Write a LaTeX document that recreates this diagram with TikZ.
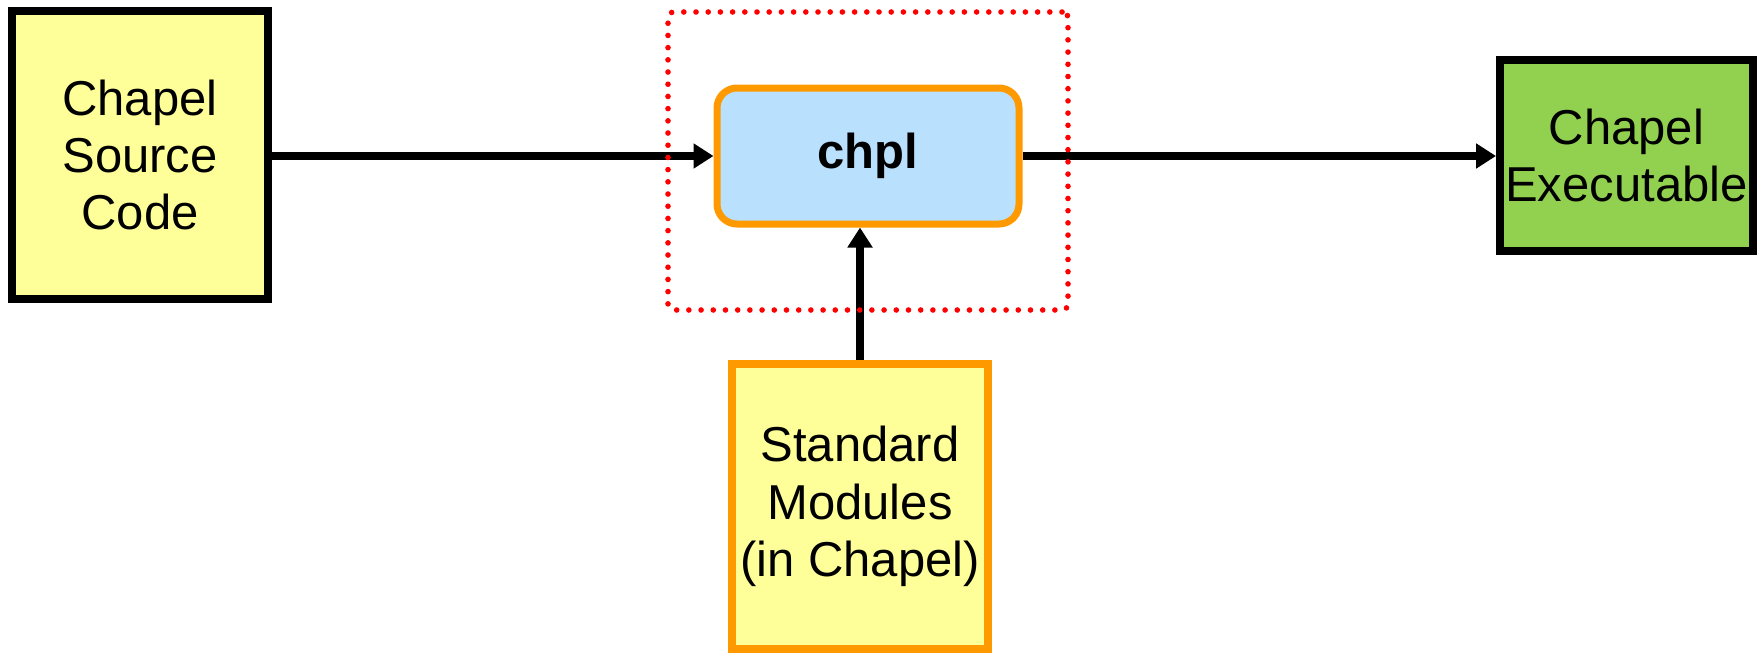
\documentclass[tikz,border=0pt]{standalone}
\usepackage{fontspec}
\setmainfont{Liberation Sans}
\usetikzlibrary{arrows.meta}
\definecolor{boxyellow}{HTML}{FFFF99}
\definecolor{boxblue}{HTML}{B9E0FC}
\definecolor{boxorange}{HTML}{FF9900}
\definecolor{boxgreen}{HTML}{92D050}
\definecolor{dotred}{HTML}{FF0000}
\tikzset{
  bigtext/.style={font=\fontsize{24.5}{28.7}\selectfont, align=center, inner sep=0pt, outer sep=auto},
  srcbox/.style={bigtext, draw=black, fill=boxyellow, line width=4pt, minimum width=128pt, minimum height=144pt},
  modbox/.style={bigtext, draw=boxorange, fill=boxyellow, line width=4pt, minimum width=128pt, minimum height=142.5pt},
  exebox/.style={bigtext, draw=black, fill=boxgreen, line width=4pt, minimum width=126.5pt, minimum height=95.5pt},
  compbox/.style={bigtext, draw=boxorange, fill=boxblue, line width=3.5pt, rounded corners=10pt, minimum width=151pt, minimum height=68pt, font=\fontsize{24.5}{28.7}\selectfont\bfseries},
  flow/.style={line width=3.6pt, -{Triangle[length=10pt,width=12pt]}},
  groupbox/.style={draw=dotred, line width=2.8pt, line cap=round, dash pattern=on 0pt off 6.1pt, rounded corners=3pt, minimum width=200pt, minimum height=149pt, inner sep=0pt}
}
\begin{document}
\begin{tikzpicture}[x=0.5pt, y=-0.5pt]
\useasboundingbox (0,0) rectangle (1759,653);
\node[srcbox] (src) at (140,155) {Chapel\\Source\\Code};
\node[compbox] (chpl) at (868,156) {chpl};
\node[exebox] (exe) at (1626.5,155.5) {Chapel\\Executable};
\node[modbox] (mods) at (860,506.5) {Standard\\Modules\\(in Chapel)};
\draw[flow] (src.east |- chpl.west) -- (chpl.west);
\draw[flow] (chpl.east) -- (exe.west |- chpl.east);
\draw[flow] (mods.north) -- (mods.north |- chpl.south);
\node[groupbox] (group) at (868,161) {};
\end{tikzpicture}
\end{document}
